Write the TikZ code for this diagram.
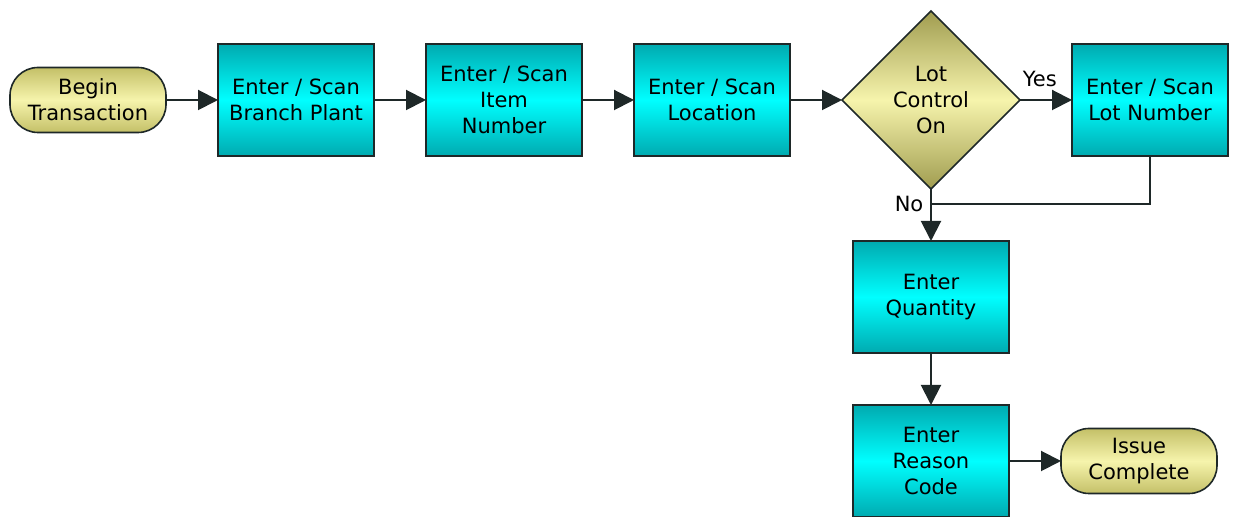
\documentclass[tikz,border=0pt]{standalone}
\usepackage{fontspec}
\setmainfont{DejaVu Sans}
\usepackage{xcolor}
\usepackage{tikz}
\usetikzlibrary{shapes.geometric, arrows.meta, positioning}
\definecolor{boxedge}{RGB}{0,170,176}
\definecolor{boxmid}{RGB}{0,255,255}
\definecolor{padedge}{RGB}{196,192,104}
\definecolor{padmid}{RGB}{246,244,172}
\definecolor{gemedge}{RGB}{160,156,80}
\definecolor{lineink}{RGB}{30,40,40}

\begin{document}
\begin{tikzpicture}[node distance=26pt, thick, font=\fontsize{10.5}{13}\selectfont,
    stepbox/.style={draw=lineink, rectangle, outer sep=0pt, minimum width=78pt, minimum height=56pt, align=center, top color=boxedge, bottom color=boxedge, middle color=boxmid},
    terminal/.style={draw=lineink, rectangle, outer sep=0pt, rounded corners=14pt, minimum width=78pt, minimum height=32.5pt, align=center, top color=padedge, bottom color=padedge, middle color=padmid},
    decision/.style={draw=lineink, diamond, outer sep=0pt, minimum width=89pt, minimum height=89pt, inner sep=0pt, align=center, top color=gemedge, bottom color=gemedge, middle color=padmid},
    flow/.style={-{Triangle[length=10pt,width=10pt]}, line width=1pt, draw=lineink}]

    \useasboundingbox (0,0) rectangle (616.5pt,-258.5pt);

    % --- top row ---
    \node (begin) [terminal] at (44pt,-50pt) {Begin\\Transaction};
    \node (branch) [stepbox, right=of begin] {Enter / Scan\\Branch Plant};
    \node (item) [stepbox, right=of branch] {Enter / Scan\\Item\\Number};
    \node (location) [stepbox, right=of item] {Enter / Scan\\Location};
    \node (lotctl) [decision, right=of location] {Lot\\Control\\On};
    \node (lotnum) [stepbox, right=of lotctl] {Enter / Scan\\Lot Number};

    % --- down the right side ---
    \coordinate [below=7.5pt of lotctl.south] (join);
    \node (quantity) [stepbox, below=of lotctl] {Enter\\Quantity};
    \node (reason) [stepbox, below=of quantity] {Enter\\Reason\\Code};
    \node (issue) [terminal, right=of reason] {Issue\\Complete};

    % Arrows
    \draw[flow] (begin) -- (branch);
    \draw[flow] (branch) -- (item);
    \draw[flow] (item) -- (location);
    \draw[flow] (location) -- (lotctl);
    \draw[flow] (lotctl) -- node[above=3pt, pos=0.38] (yes) {Yes} (lotnum);
    \draw[line width=1pt, draw=lineink] (lotnum.south) |- (join);
    \draw[flow] (lotctl.south) -- node[left, pos=0.28] (no) {No} (quantity);
    \draw[flow] (quantity) -- (reason);
    \draw[flow] (reason) -- (issue);

\end{tikzpicture}
\end{document}
